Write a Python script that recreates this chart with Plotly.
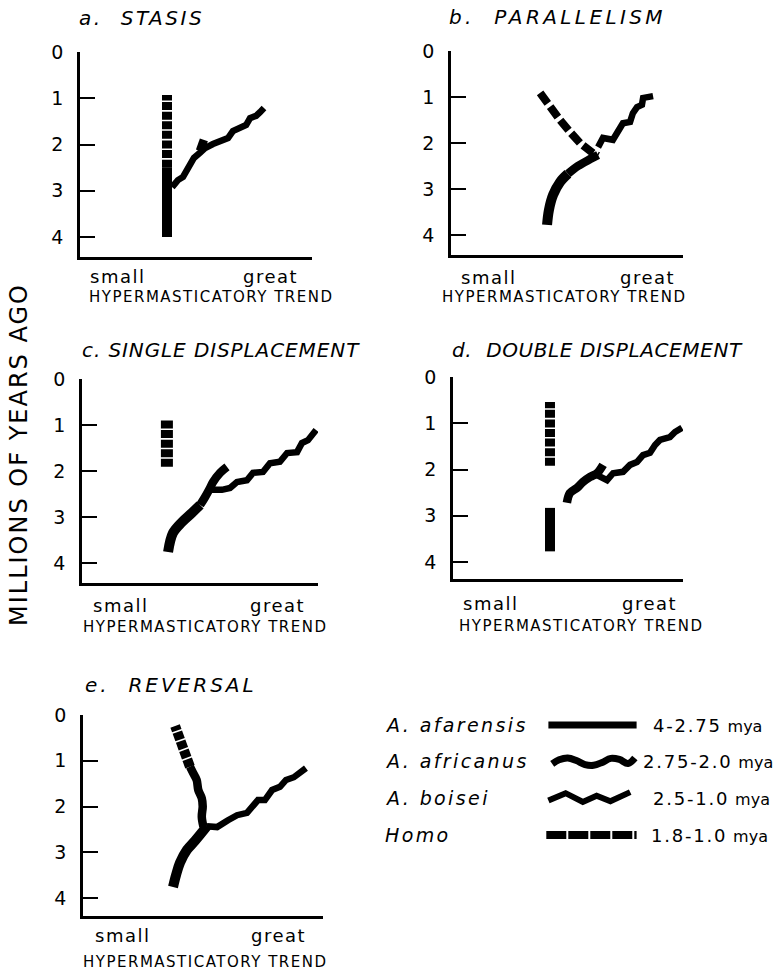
import plotly.graph_objects as go

W, H = 782, 973
FONT = "DejaVu Sans"

# ---------------- data (x = hypermasticatory trend 0..1, y = millions of years ago) -------------
# a. STASIS
a_afar_x = [0.375, 0.375]
a_afar_y = [4.0, 2.5]
a_homo_x = [0.375, 0.375]
a_homo_y = [2.5, 0.93]
a_bois_x = [0.397, 0.422, 0.444, 0.461, 0.474, 0.491, 0.517, 0.539, 0.573, 0.612, 0.638, 0.659, 0.690, 0.716, 0.733, 0.759, 0.776, 0.793]
a_bois_y = [2.92, 2.77, 2.70, 2.55, 2.40, 2.29, 2.18, 2.08, 1.99, 1.92, 1.86, 1.71, 1.64, 1.58, 1.43, 1.38, 1.30, 1.21]
a_afri_x = [0.517, 0.534]
a_afri_y = [2.14, 1.90]

# b. PARALLELISM
b_afar_x = [0.414, 0.422, 0.440, 0.470, 0.504]
b_afar_y = [3.78, 3.46, 3.13, 2.85, 2.67]
b_afri_x = [0.504, 0.547, 0.600, 0.634]
b_afri_y = [2.67, 2.50, 2.35, 2.26]
b_homo_x = [0.384, 0.427, 0.470, 0.513, 0.556, 0.612, 0.634]
b_homo_y = [0.91, 1.22, 1.50, 1.76, 2.00, 2.22, 2.28]
b_bois_x = [0.634, 0.655, 0.698, 0.716, 0.741, 0.772, 0.784, 0.802, 0.823, 0.828, 0.871]
b_bois_y = [2.09, 1.89, 1.93, 1.76, 1.57, 1.54, 1.35, 1.22, 1.17, 1.02, 0.98]

# c. SINGLE DISPLACEMENT
c_afar_x = [0.371, 0.392, 0.431, 0.474, 0.509]
c_afar_y = [3.76, 3.35, 3.11, 2.91, 2.74]
c_afri_x = [0.509, 0.530, 0.552, 0.565, 0.595, 0.625]
c_afri_y = [2.74, 2.57, 2.37, 2.24, 2.04, 1.91]
c_bois_x = [0.552, 0.603, 0.638, 0.668, 0.711, 0.737, 0.780, 0.810, 0.853, 0.884, 0.927, 0.948, 0.974, 1.009]
c_bois_y = [2.41, 2.41, 2.37, 2.24, 2.20, 2.04, 2.02, 1.83, 1.80, 1.61, 1.59, 1.39, 1.33, 1.11]
c_homo_x = [0.366, 0.366]
c_homo_y = [1.91, 0.89]

# d. DOUBLE DISPLACEMENT
d_afar_x = [0.418, 0.418]
d_afar_y = [3.77, 2.83]
d_homo_x = [0.418, 0.418]
d_homo_y = [1.92, 0.54]
d_afri_x = [0.491, 0.504, 0.534, 0.560, 0.591, 0.621, 0.647]
d_afri_y = [2.72, 2.51, 2.40, 2.27, 2.16, 2.08, 1.90]
d_bois_x = [0.621, 0.664, 0.690, 0.733, 0.763, 0.793, 0.819, 0.849, 0.871, 0.892, 0.935, 0.957, 0.987]
d_bois_y = [2.12, 2.23, 2.08, 2.05, 1.90, 1.84, 1.69, 1.64, 1.47, 1.36, 1.30, 1.19, 1.10]

# e. REVERSAL
e_afar_x = [0.388, 0.401, 0.418, 0.448, 0.483, 0.517, 0.534]
e_afar_y = [3.76, 3.50, 3.23, 2.95, 2.75, 2.54, 2.43]
e_afri_x = [0.519, 0.512, 0.516, 0.512, 0.497, 0.490, 0.475, 0.461]
e_afri_y = [2.44, 2.22, 2.00, 1.82, 1.64, 1.42, 1.27, 1.13]
e_homo_x = [0.461, 0.440, 0.425, 0.410, 0.397]
e_homo_y = [1.13, 0.84, 0.62, 0.39, 0.24]
e_bois_x = [0.534, 0.578, 0.625, 0.664, 0.707, 0.733, 0.754, 0.784, 0.815, 0.849, 0.875, 0.909, 0.935, 0.961]
e_bois_y = [2.43, 2.45, 2.30, 2.19, 2.14, 1.97, 1.86, 1.86, 1.64, 1.57, 1.42, 1.36, 1.25, 1.16]

# legend
legend_names = ["A. afarensis", "A. africanus", "A. boisei", "Homo"]
legend_ranges = ["4-2.75", "2.75-2.0", "2.5-1.0", "1.8-1.0"]
leg_wave_x = [0.02, 0.10, 0.20, 0.30, 0.40, 0.50, 0.60, 0.70, 0.80, 0.90, 0.98]
leg_wave_dy = [0.06, -0.05, -0.10, -0.03, 0.08, 0.10, 0.02, -0.09, -0.06, 0.05, -0.10]
leg_zig_x = [0.0, 0.20, 0.40, 0.56, 0.72, 0.95]
leg_zig_dy = [0.06, -0.14, 0.10, -0.07, 0.08, -0.17]

yticks = [0, 1, 2, 3, 4]
ytick_text = ["0", "1", "2", "3", "4"]

# ---------------- layout geometry (pixels) ----------------
panels = {
    "a": dict(x0=80, x1=312, ytop=52, ybot=257, s=46.25, title="a.  STASIS", ls=2.6, tx=77, ty=18,
              small=118, great=270, lab_y=276, hyp_x=211, hyp_y=297),
    "b": dict(x0=451, x1=683, ytop=51, ybot=255, s=46.0, title="b.  PARALLELISM", ls=3.4, tx=447, ty=17,
              small=488, great=647, lab_y=277, hyp_x=564, hyp_y=297),
    "c": dict(x0=82, x1=318, ytop=379, ybot=583, s=46.0, title="c. SINGLE DISPLACEMENT", ls=0.9, tx=80, ty=350,
              small=120, great=277, lab_y=605, hyp_x=205, hyp_y=627),
    "d": dict(x0=453, x1=683, ytop=377, ybot=579, s=46.25, title="d.  DOUBLE DISPLACEMENT", ls=0.6, tx=450, ty=350,
              small=490, great=649, lab_y=603, hyp_x=581, hyp_y=626),
    "e": dict(x0=83, x1=323, ytop=715, ybot=916, s=45.75, title="e.  REVERSAL", ls=3.0, tx=83, ty=685,
              small=122, great=278, lab_y=935, hyp_x=205, hyp_y=962),
}

series = {
    "a": [("afar", a_afar_x, a_afar_y), ("bois", a_bois_x, a_bois_y), ("afri", a_afri_x, a_afri_y),
          ("homo", a_homo_x, a_homo_y)],
    "b": [("afar", b_afar_x, b_afar_y), ("afri", b_afri_x, b_afri_y), ("bois", b_bois_x, b_bois_y),
          ("homo_b", b_homo_x, b_homo_y)],
    "c": [("afar", c_afar_x, c_afar_y), ("afri", c_afri_x, c_afri_y), ("bois", c_bois_x, c_bois_y),
          ("homo_c", c_homo_x, c_homo_y)],
    "d": [("afar", d_afar_x, d_afar_y), ("afri", d_afri_x, d_afri_y), ("bois", d_bois_x, d_bois_y),
          ("homo", d_homo_x, d_homo_y)],
    "e": [("afar", e_afar_x, e_afar_y), ("afri", e_afri_x, e_afri_y), ("bois", e_bois_x, e_bois_y),
          ("homo", e_homo_x, e_homo_y)],
}

styles = {
    "afar": dict(color="black", width=10, shape="spline"),
    "afri": dict(color="black", width=8.5, shape="spline"),
    "bois": dict(color="black", width=6.5, shape="linear"),
    "homo": dict(color="black", width=10, dash="8px,1.6px"),
    "homo_b": dict(color="black", width=8, dash="13px,4px"),
    "homo_c": dict(color="black", width=12, dash="8px,1.6px"),
}


def spaced(text, ls):
    return "<span style='letter-spacing:%.1fpx'>%s</span>" % (ls, text)


fig = go.Figure()
annotations = []
layout = dict(template="none", width=W, height=H,
              margin=dict(l=0, r=0, t=0, b=0, pad=0, autoexpand=False),
              paper_bgcolor="white", plot_bgcolor="white", showlegend=False)


def px2fx(px):
    return px / W


def py2fy(py):
    return 1 - py / H


for i, (key, p) in enumerate(panels.items(), start=1):
    sfx = "" if i == 1 else str(i)
    xa, ya = "xaxis" + sfx, "yaxis" + sfx
    xr, yr = "x" + sfx, "y" + sfx
    xmax = (p["x1"] - p["x0"]) / 232.0
    ymax = (p["ybot"] - p["ytop"]) / p["s"]
    layout[xa] = dict(domain=[px2fx(p["x0"]), px2fx(p["x1"])], range=[0, xmax], anchor=yr, automargin=False,
                      showline=True, linecolor="black", linewidth=2.5, showgrid=False, zeroline=False,
                      showticklabels=False, ticks="", fixedrange=True)
    layout[ya] = dict(domain=[py2fy(p["ybot"]), py2fy(p["ytop"])], range=[ymax, 0], anchor=xr, automargin=False,
                      showline=True, linecolor="black", linewidth=2.5, showgrid=False, zeroline=False,
                      ticks="inside", ticklen=15, tickwidth=2, tickcolor="black",
                      tickvals=yticks, ticktext=ytick_text, ticklabelstandoff=10,
                      tickfont=dict(family=FONT, size=19, color="black"), fixedrange=True)
    for kind, xs, ys in series[key]:
        fig.add_trace(go.Scatter(x=xs, y=ys, mode="lines", line=styles[kind], xaxis=xr, yaxis=yr,
                                 hoverinfo="skip"))
    annotations.append(dict(text=spaced(p["title"], p["ls"]), x=px2fx(p["tx"]), y=py2fy(p["ty"]),
                            xref="paper", yref="paper", xanchor="left", yanchor="middle", showarrow=False,
                            font=dict(family=FONT, size=20, color="black", style="italic")))
    for word, cx in (("small", p["small"]), ("great", p["great"])):
        annotations.append(dict(text=spaced(word, 1.5), x=px2fx(cx), y=py2fy(p["lab_y"]), xref="paper",
                                yref="paper", xanchor="center", yanchor="middle", showarrow=False,
                                font=dict(family=FONT, size=18, color="black")))
    annotations.append(dict(text=spaced("HYPERMASTICATORY TREND", 1.5), x=px2fx(p["hyp_x"]),
                            y=py2fy(p["hyp_y"]), xref="paper", yref="paper", xanchor="center",
                            yanchor="middle", showarrow=False,
                            font=dict(family=FONT, size=15, color="black")))

# legend glyph axes
layout["xaxis6"] = dict(domain=[px2fx(540), px2fx(645)], range=[0, 1], anchor="y6", visible=False,
                        fixedrange=True, automargin=False)
layout["yaxis6"] = dict(domain=[py2fy(853.33), py2fy(706.67)], range=[4.5, 0.5], anchor="x6", visible=False,
                        fixedrange=True, automargin=False)
fig.add_trace(go.Scatter(x=[0.08, 0.92], y=[1, 1], mode="lines", line=dict(color="black", width=7),
                         xaxis="x6", yaxis="y6", hoverinfo="skip"))
fig.add_trace(go.Scatter(x=[0.1 + 0.82 * v for v in leg_wave_x], y=[2 + d for d in leg_wave_dy], mode="lines",
                         line=dict(color="black", width=7, shape="spline"), xaxis="x6", yaxis="y6",
                         hoverinfo="skip"))
fig.add_trace(go.Scatter(x=[0.08 + 0.82 * v for v in leg_zig_x], y=[3 + d for d in leg_zig_dy], mode="lines",
                         line=dict(color="black", width=6), xaxis="x6", yaxis="y6", hoverinfo="skip"))
fig.add_trace(go.Scatter(x=[0.06, 0.92], y=[4, 4], mode="lines",
                         line=dict(color="black", width=8, dash="20px,2px"), xaxis="x6", yaxis="y6",
                         hoverinfo="skip"))

leg_rows_y = [725, 761, 798, 835]
leg_range_x = [651, 641, 651, 649]
for name, rng, ry, rx in zip(legend_names, legend_ranges, leg_rows_y, leg_range_x):
    annotations.append(dict(text=spaced(name, 2.4), x=px2fx(383), y=py2fy(ry), xref="paper", yref="paper",
                            xanchor="left", yanchor="middle", showarrow=False,
                            font=dict(family=FONT, size=19, color="black", style="italic")))
    annotations.append(dict(text=spaced(rng, 1.8) + " <span style='font-size:16px'>mya</span>", x=px2fx(rx),
                            y=py2fy(ry), xref="paper", yref="paper", xanchor="left", yanchor="middle",
                            showarrow=False, font=dict(family=FONT, size=18, color="black")))

# overall y title
annotations.append(dict(text=spaced("MILLIONS OF YEARS AGO", 2.0), x=px2fx(19), y=py2fy(455), xref="paper",
                        yref="paper", xanchor="center", yanchor="middle", textangle=-90, showarrow=False,
                        font=dict(family=FONT, size=24, color="black")))

layout["annotations"] = annotations
fig.update_layout(**layout)
fig.write_html("out.html")
